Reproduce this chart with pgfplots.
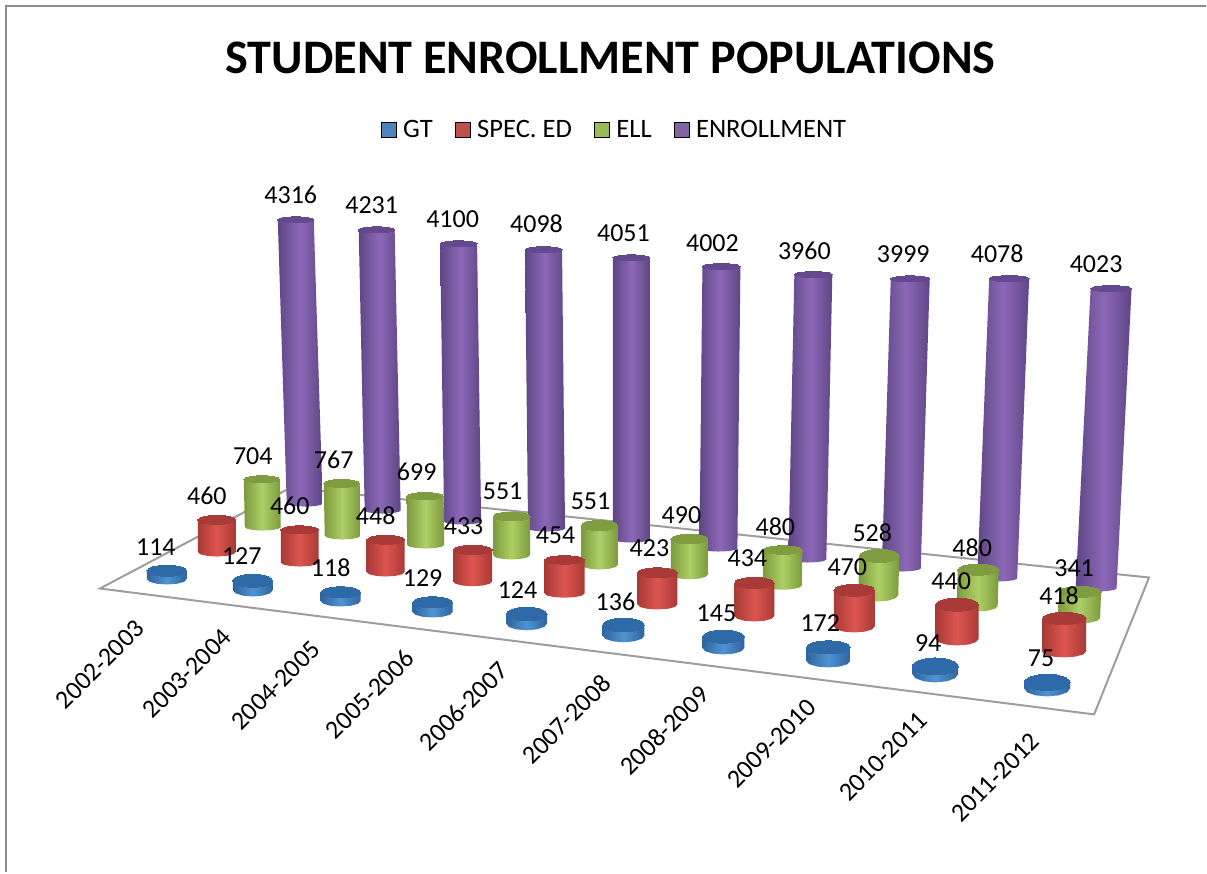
\documentclass[border=0pt]{standalone}
\usepackage{fontspec}
\setmainfont{Carlito}
\usepackage{pgfplots}
\pgfplotsset{compat=1.18}
\definecolor{Gs}{HTML}{2F649F}\definecolor{Gm}{HTML}{4F93D2}\definecolor{Gt}{HTML}{2E69A8}
\definecolor{Rs}{HTML}{A83A36}\definecolor{Rm}{HTML}{DD5550}\definecolor{Rt}{HTML}{A83B38}
\definecolor{Vs}{HTML}{7C9A3C}\definecolor{Vm}{HTML}{AECF66}\definecolor{Vt}{HTML}{7F9C40}
\definecolor{Ps}{HTML}{5E4685}\definecolor{Pm}{HTML}{8C68B8}\definecolor{Pt}{HTML}{65498F}
\definecolor{Cgt}{HTML}{4F81BD}\definecolor{Cre}{HTML}{C0504D}\definecolor{Cgr}{HTML}{9BBB59}\definecolor{Cpu}{HTML}{8064A2}
% #1 colour prefix, #2 value, #3 base x, #4 base y, #5 top x, #6 px per unit, #7 rx, #8 ry
\newcommand{\cyl}[8]{%
  \pgfmathsetmacro\ty{#4-#6*#2}%
  \pgfmathsetmacro\xa{#5-#7}\pgfmathsetmacro\xb{#5+#7}%
  \pgfmathsetmacro\xc{#3+#7}\pgfmathsetmacro\xi{#3-#7}%
  \pgfmathsetmacro\xd{#3+.866*#7}\pgfmathsetmacro\yd{#4+.5*#8}%
  \pgfmathsetmacro\xe{#3+.5*#7}\pgfmathsetmacro\ye{#4+.866*#8}%
  \pgfmathsetmacro\yf{#4+#8}%
  \pgfmathsetmacro\xg{#3-.5*#7}\pgfmathsetmacro\xh{#3-.866*#7}%
  \edef\temp{\noexpand\addplot[forget plot,draw=none,left color=#1s,right color=#1s,middle color=#1m]
    coordinates {(\xa,\ty)(\xb,\ty)(\xc,#4)(\xd,\yd)(\xe,\ye)(#3,\yf)(\xg,\ye)(\xh,\yd)(\xi,#4)} --cycle;
    \noexpand\addplot[forget plot,only marks,mark=*,mark size=#7,mark options={draw=#1t,line width=0pt,fill=#1t,yscale=#8/#7}]
    coordinates {(#5,\ty)};}\temp}
\newcommand{\lab}[3]{\addplot[forget plot,only marks,mark=none,point meta=explicit symbolic,nodes near coords,
   nodes near coords align={anchor=center},
   every node near coord/.append style={anchor=center,font=\fontsize{26}{30}\selectfont,inner sep=0pt}]
   coordinates {(#2,#3)[#1]};}
\newcommand{\cat}[3]{\node[font=\fontsize{26}{30}\selectfont,rotate=45,inner sep=0pt] at (axis cs:#2,#3) {#1};}
\begin{document}
\begin{tikzpicture}
\begin{axis}[
  scale only axis,width=1207pt,height=873pt,
  xmin=0,xmax=1207,ymin=0,ymax=873,y dir=reverse,
  axis lines=none,clip=false,
  title={STUDENT ENROLLMENT POPULATIONS},
  title style={at={(axis cs:611,64)},anchor=center,font=\fontsize{48.2}{56}\selectfont\bfseries,inner sep=0pt},
  legend columns=4,
  legend cell align=left,
  legend style={at={(axis cs:615,129.5)},anchor=center,draw=none,fill=none,
    font=\fontsize{26.6}{30}\selectfont,inner sep=0pt,
    /tikz/every even column/.append style={column sep=20pt},
    /tikz/every odd column/.append style={column sep=5pt}},
  legend image code/.code={\fill[#1] (0pt,-7.5pt) rectangle (15pt,7.5pt);},
]
\addlegendimage{fill=Cgt}\addlegendentry{GT}
\addlegendimage{fill=Cre}\addlegendentry{SPEC. ED}
\addlegendimage{fill=Cgr}\addlegendentry{ELL}
\addlegendimage{fill=Cpu}\addlegendentry{ENROLLMENT}
% page extent
\addplot[forget plot,draw=none] coordinates {(0,0)(1207,873)};
% frame
\addplot[forget plot,draw=black!45,line width=2pt] coordinates {(6.5,873)(6.5,6)(1207,6)};
% floor
\addplot[forget plot,draw=black!38,line width=2pt,fill=white] coordinates {(100,589)(1095,715)(1150,578)(291,488)} --cycle;
% ENROLLMENT
\cyl{P}{4316}{305}{504}{296}{.0658}{18}{3}
\cyl{P}{4231}{383}{511}{377}{.0664}{18}{3}
\cyl{P}{4100}{463}{522}{459}{.0678}{18.5}{3}
\cyl{P}{4098}{547}{529}{544}{.0681}{18.5}{3}
\cyl{P}{4051}{632}{540}{632}{.0696}{18.5}{3}
\cyl{P}{4002}{719}{549}{722}{.0705}{19}{3}
\cyl{P}{3960}{808}{560}{814}{.0720}{19}{3}
\cyl{P}{3999}{902}{569}{911}{.0725}{19.5}{3}
\cyl{P}{4078}{998}{579}{1010}{.0736}{20}{3}
\cyl{P}{4023}{1097}{589}{1112}{.0746}{20.5}{3}
% ELL
\cyl{V}{704}{263}{527.5}{262}{.068}{18}{3.5}
\cyl{V}{767}{343}{536}{342}{.068}{18}{4}
\cyl{V}{699}{426}{545.5}{425.5}{.070}{18.5}{3.5}
\cyl{V}{551}{512}{555.5}{512}{.070}{18.5}{4.5}
\cyl{V}{551}{600}{565}{600}{.071}{18.5}{5}
\cyl{V}{490}{690}{575}{690}{.0725}{18.5}{4.75}
\cyl{V}{480}{783}{586}{783.5}{.074}{19.5}{4.25}
\cyl{V}{528}{879}{595.5}{880}{.074}{20}{6.5}
\cyl{V}{480}{978}{606.5}{979}{.0756}{20.5}{5.5}
\cyl{V}{341}{1080}{618.5}{1081}{.0766}{21}{5.5}
% SPEC. ED
\cyl{R}{460}{217}{552.5}{217}{.070}{19}{4.5}
\cyl{R}{460}{300}{563}{300}{.071}{19}{4}
\cyl{R}{448}{386}{572.5}{386}{.072}{19}{4.5}
\cyl{R}{433}{473}{582}{473}{.073}{19.5}{4.7}
\cyl{R}{454}{565}{594}{565}{.074}{20}{4.2}
\cyl{R}{423}{658}{605}{658}{.075}{20}{5}
\cyl{R}{434}{755}{616.5}{755}{.076}{20}{5.5}
\cyl{R}{470}{855}{627}{855}{.077}{20.5}{6}
\cyl{R}{440}{958}{639.5}{958}{.078}{21.5}{6.5}
\cyl{R}{418}{1065}{652}{1065}{.079}{22}{6}
% GT
\cyl{G}{114}{167}{579.5}{167}{.072}{20}{5.5}
\cyl{G}{127}{253}{590.5}{253}{.073}{20}{6.5}
\cyl{G}{118}{341}{601.5}{341}{.074}{20}{5.5}
\cyl{G}{129}{433}{612.5}{433}{.075}{20}{5.5}
\cyl{G}{124}{527}{624}{527}{.076}{20.5}{6.8}
\cyl{G}{136}{624}{636}{624}{.077}{21}{6.8}
\cyl{G}{145}{724}{648.5}{724}{.078}{21}{6.5}
\cyl{G}{172}{829}{661.5}{829}{.079}{22}{6.5}
\cyl{G}{94}{936}{674.5}{936}{.080}{23}{8.5}
\cyl{G}{75}{1048}{689}{1048}{.081}{23}{8}
% value labels
\lab{4316}{291}{195}\lab{4231}{372}{205}\lab{4100}{453}{219}\lab{4098}{537}{224}\lab{4051}{624}{233}
\lab{4002}{713}{243}\lab{3960}{805}{251}\lab{3999}{904}{254}\lab{4078}{998}{254}\lab{4023}{1097}{264}
\lab{704}{253}{457}\lab{767}{334}{460}\lab{699}{417}{472}\lab{551}{503}{492}\lab{551}{591}{502}
\lab{490}{682}{516}\lab{480}{776}{527}\lab{528}{873}{533}\lab{480}{973}{548}\lab{341}{1075}{569}
\lab{460}{207}{496}\lab{460}{290}{506}\lab{448}{376}{516}\lab{433}{464}{527}\lab{454}{556}{536}
\lab{423}{650}{549}\lab{434}{748}{559}\lab{470}{848}{568}\lab{440}{952}{582}\lab{418}{1060}{596}
\lab{114}{156}{548}\lab{127}{242}{557}\lab{118}{331}{568}\lab{129}{423}{579}\lab{124}{518}{591}
\lab{136}{616}{602}\lab{145}{717}{614}\lab{172}{821}{624}\lab{94}{929}{644}\lab{75}{1042}{659}
% category labels
\cat{2002-2003}{100}{665}\cat{2003-2004}{187}{674}\cat{2004-2005}{276}{686}\cat{2005-2006}{370}{695}
\cat{2006-2007}{464}{707}\cat{2007-2008}{567}{720}\cat{2008-2009}{665}{731}\cat{2009-2010}{772}{744}
\cat{2010-2011}{884}{757}\cat{2011-2012}{996}{778}
\end{axis}
\end{tikzpicture}
\end{document}
